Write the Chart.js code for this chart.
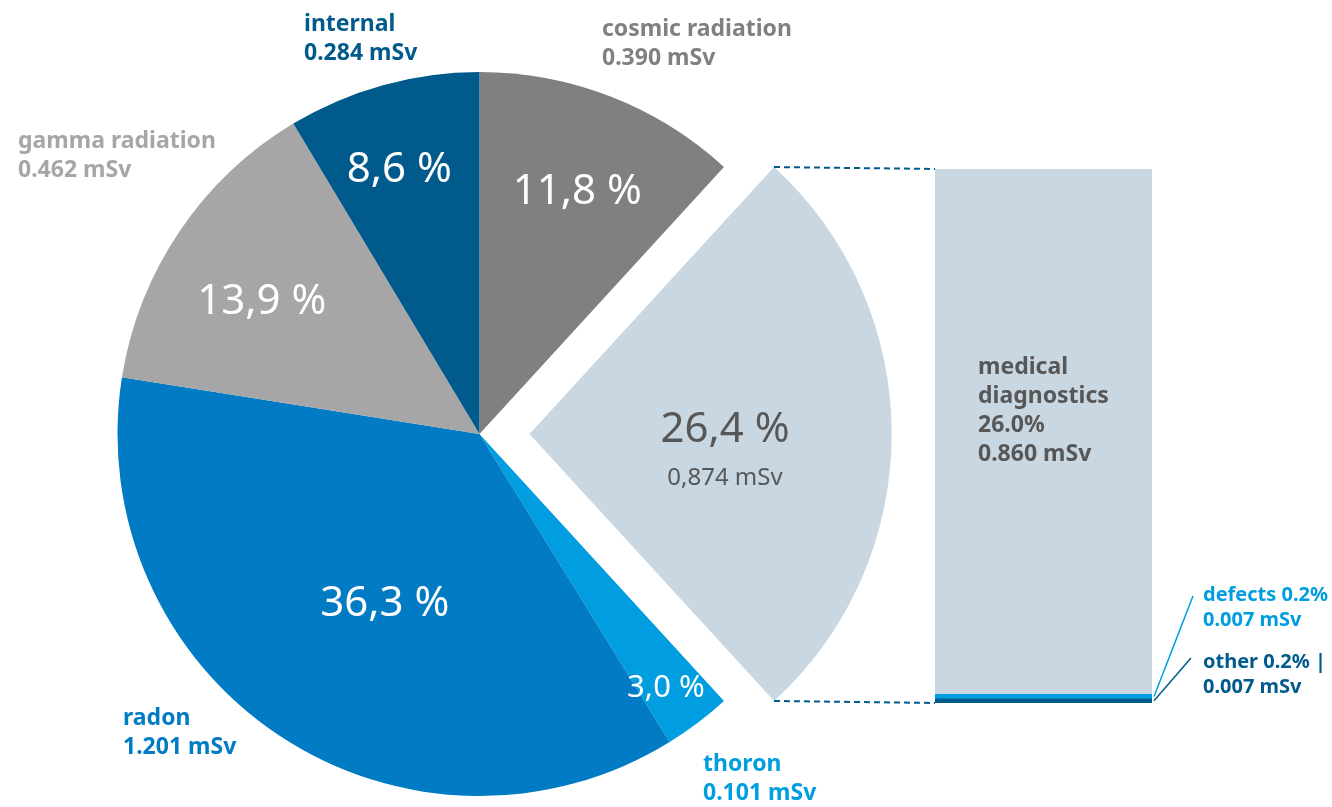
<!doctype html>
<html lang="en">
<head>
<meta charset="utf-8">
<title>Radiation exposure by source</title>
<script src="https://cdn.jsdelivr.net/npm/chart.js@4.4.0/dist/chart.umd.min.js"></script>
<style>
  body { margin: 0; background: #fff; }
  #wrap { position: relative; width: 1332px; height: 807px; overflow: hidden; }
  #pieChart { position: absolute; left: 0; top: 0; }
  #barChart { position: absolute; left: 935px; top: 169px; }
</style>
</head>
<body>
<div id="wrap">
  <canvas id="pieChart" width="1332" height="807"></canvas>
  <canvas id="barChart" width="217" height="534"></canvas>
</div>
<script>
  // sources of the yearly dose, clockwise from 12 o'clock
  const sources = ["cosmic radiation", "medical diagnostics", "thoron", "radon", "gamma radiation", "internal"];
  const percents = [11.8, 26.4, 3.0, 36.3, 13.9, 8.6];
  const doses = [0.390, 0.874, 0.101, 1.201, 0.462, 0.284];
  const sliceColors = ["#808080", "#c9d7e2", "#009ee0", "#007bc4", "#a6a6a6", "#005a8c"];
  const labelColors = ["#808080", "#575757", "#009ee0", "#007bc4", "#a6a6a6", "#005a8c"];

  // breakdown of the medical slice, bottom to top
  const medicalParts = ["other", "defects", "medical diagnostics"];
  const medicalPercents = [0.2, 0.2, 26.0];
  const medicalDoses = [0.007, 0.007, 0.860];
  const medicalColors = ["#005a8c", "#009ee0", "#c9d7e2"];

  const FONT = "'Noto Sans', 'DejaVu Sans', sans-serif";
  const EXPLODE = 1; // index of the pulled-out slice

  function pct(v) { return v.toFixed(1).replace(".", ",") + " %"; }
  function dose(v) { return v.toFixed(3) + " mSv"; }

  // stacked column for the medical breakdown
  const barChart = new Chart(document.getElementById("barChart"), {
    type: "bar",
    data: {
      labels: [""],
      datasets: medicalParts.map((name, i) => ({
        label: name,
        data: [medicalDoses[i]],
        backgroundColor: medicalColors[i],
        borderWidth: 0,
        barPercentage: 1,
        categoryPercentage: 1
      }))
    },
    options: {
      responsive: false,
      animation: false,
      events: [],
      layout: { padding: 0 },
      plugins: { legend: { display: false }, tooltip: { enabled: false } },
      scales: {
        x: { display: false, stacked: true },
        y: { display: false, stacked: true, min: 0, max: medicalDoses.reduce((a, b) => a + b, 0) }
      }
    },
    plugins: [{
      id: "barText",
      afterDatasetsDraw(chart) {
        const ctx = chart.ctx;
        const top = chart.getDatasetMeta(2).data[0];
        const left = top.x - top.width / 2 + 43;
        const lines = ["medical", "diagnostics", medicalPercents[2].toFixed(1) + "%", dose(medicalDoses[2])];
        ctx.save();
        ctx.fillStyle = "#575757";
        ctx.font = "bold 23px " + FONT;
        ctx.textBaseline = "middle";
        lines.forEach((t, k) => ctx.fillText(t, left, 198 + k * 29));
        ctx.restore();
      }
    }]
  });

  // percentage labels inside the slices: radius fraction, angle nudge (deg) from mid angle, font size
  const innerPlace = [[0.726, 0.6, 42], [0.54, 0, 42], [0.866, 0.6, 31], [0.532, -4.2, 42], [0.706, -2.4, 42], [0.768, -1.3, 42]];
  // name / dose labels around the pie: left edge and first line centre
  const outerLabels = [[602, 29], null, [703, 764], [123, 718], [18, 141], [304, 24]];

  const pieText = {
    id: "pieText",
    afterDatasetsDraw(chart) {
      const ctx = chart.ctx;
      const arcs = chart.getDatasetMeta(0).data;
      ctx.save();
      arcs.forEach((arc, i) => {
        const mid = (arc.startAngle + arc.endAngle) / 2;
        const shift = (arc.options.offset || 0) / 4;
        const cx = arc.x + Math.cos(mid) * shift;
        const cy = arc.y + Math.sin(mid) * shift;
        const r = arc.outerRadius * innerPlace[i][0];
        const a = mid + innerPlace[i][1] * Math.PI / 180;
        const x = cx + Math.cos(a) * r;
        const y = cy + Math.sin(a) * r + 2;
        ctx.textAlign = "center";
        ctx.textBaseline = "middle";
        ctx.fillStyle = i === EXPLODE ? "#575757" : "#ffffff";
        ctx.font = innerPlace[i][2] + "px " + FONT;
        if (i === EXPLODE) {
          ctx.fillText(pct(percents[i]), x, y - 6);
          ctx.font = "24px " + FONT;
          ctx.fillText(dose(doses[i]).replace(".", ","), x, y + 42);
        } else {
          ctx.fillText(pct(percents[i]), x, y);
        }

        const pos = outerLabels[i];
        if (pos) {
          ctx.textAlign = "left";
          ctx.fillStyle = labelColors[i];
          ctx.font = "bold 23px " + FONT;
          ctx.fillText(sources[i], pos[0], pos[1]);
          ctx.fillText(dose(doses[i]), pos[0], pos[1] + 29);
        }
      });

      // dashed guides from the pulled-out slice to the column
      const arc = arcs[EXPLODE];
      const mid = (arc.startAngle + arc.endAngle) / 2;
      const shift = (arc.options.offset || 0) / 4;
      const cx = arc.x + Math.cos(mid) * shift;
      const cy = arc.y + Math.sin(mid) * shift;
      const R = arc.outerRadius;
      const canvasBar = barChart.canvas;
      const bx = canvasBar.offsetLeft;
      const by = canvasBar.offsetTop;
      const topBar = barChart.getDatasetMeta(2).data[0];
      const barLeft = bx + topBar.x - topBar.width / 2;
      const barRight = bx + topBar.x + topBar.width / 2;
      const barTop = by + topBar.y;
      const barBottom = by + barChart.getDatasetMeta(0).data[0].base;
      ctx.strokeStyle = "#005a8c";
      ctx.lineWidth = 2;
      ctx.setLineDash([6, 4]);
      ctx.beginPath();
      ctx.moveTo(cx + Math.cos(arc.startAngle) * R, cy + Math.sin(arc.startAngle) * R);
      ctx.lineTo(barLeft, barTop);
      ctx.moveTo(cx + Math.cos(arc.endAngle) * R, cy + Math.sin(arc.endAngle) * R);
      ctx.lineTo(barLeft, barBottom);
      ctx.stroke();
      ctx.setLineDash([]);

      // leader lines and labels for the two thin segments
      const small = [
        { i: 1, lx: 1203, ly: 595, ex: 1193, ey: 596 },
        { i: 0, lx: 1203, ly: 662, ex: 1191, ey: 658 }
      ];
      small.forEach(s => {
        const seg = barChart.getDatasetMeta(s.i).data[0];
        const sy = by + (seg.y + seg.base) / 2;
        ctx.strokeStyle = medicalColors[s.i];
        ctx.lineWidth = 1.5;
        ctx.beginPath();
        ctx.moveTo(barRight + 2, sy);
        ctx.lineTo(s.ex, s.ey);
        ctx.stroke();
        ctx.fillStyle = medicalColors[s.i];
        ctx.font = "bold 20px " + FONT;
        ctx.textAlign = "left";
        ctx.textBaseline = "middle";
        const first = medicalParts[s.i] + " " + medicalPercents[s.i].toFixed(1) + "%" + (s.i === 0 ? " |" : "");
        ctx.fillText(first, s.lx, s.ly);
        ctx.fillText(dose(medicalDoses[s.i]), s.lx, s.ly + 25);
      });
      ctx.restore();
    }
  };

  new Chart(document.getElementById("pieChart"), {
    type: "pie",
    data: {
      labels: sources,
      datasets: [{
        data: percents,
        backgroundColor: sliceColors,
        borderWidth: 0,
        hoverOffset: 0,
        offset: percents.map((p, i) => i === EXPLODE ? 200 : 0)
      }]
    },
    options: {
      responsive: false,
      animation: false,
      events: [],
      radius: 362,
      layout: { padding: { left: 0, right: 373, top: 61, bottom: 0 } },
      plugins: { legend: { display: false }, tooltip: { enabled: false } }
    },
    plugins: [pieText]
  });
</script>
</body>
</html>
